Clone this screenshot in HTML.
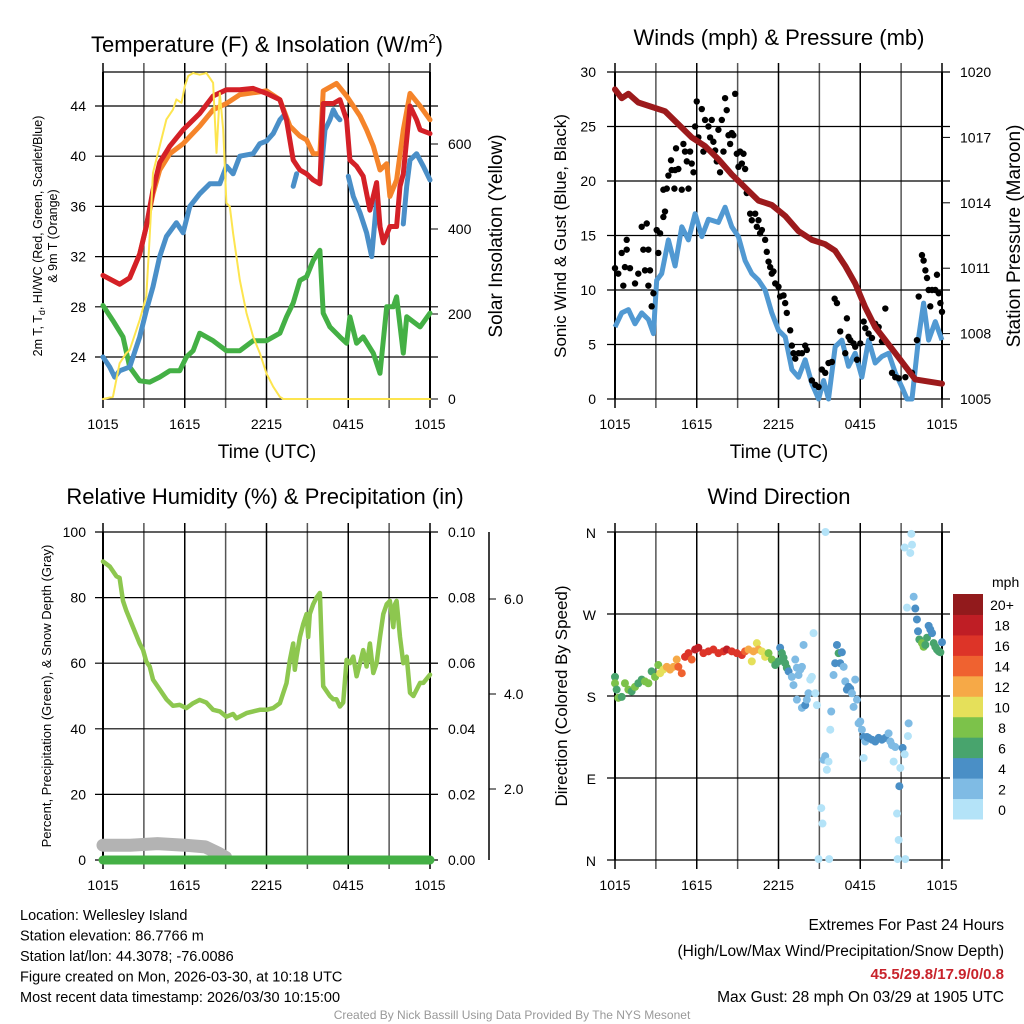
<!DOCTYPE html>
<html><head><meta charset="utf-8"><style>
html,body{margin:0;padding:0;background:#fff;}
svg{display:block;font-family:"Liberation Sans",Arial,sans-serif;}
</style></head><body>
<svg id="root" width="1024" height="1024" viewBox="0 0 1024 1024"></svg>
<script>
// ---------- DATA ----------
const tempRedH=[0,1.22,1.96,2.69,3.18,3.67,4.16,4.9,5.88,7.1,8.08,9.06,10.04,11.02,12.0,12.98,13.47,13.96,14.45,14.94,15.43,15.92,16.16,16.9,17.39,17.88,18.12,18.61,19.1,19.59,20.08,20.33,20.57,21.06,21.55,21.8,22.04,22.53,23.02,23.27,24];
const tempRedV=[30.5,29.8,30.3,32.2,34.4,37.3,39.5,40.8,42.1,43.4,44.8,45.3,45.3,45.4,45.0,44.5,42.9,39.7,38.9,38.6,38.1,37.8,44.2,44.2,44.5,42.9,39.7,39.2,38.4,35.7,37.9,34.4,33.1,34.4,34.4,37.6,38.6,44.0,42.9,42.1,41.8];
const temp9mH=[0,1.22,1.96,2.69,3.18,3.67,4.16,4.9,5.88,7.1,8.08,9.06,10.04,12.0,12.98,13.72,14.45,14.94,15.43,15.92,16.16,17.14,17.88,18.37,18.86,19.35,19.84,20.33,20.82,21.06,21.55,22.04,22.53,23.27,24];
const temp9mV=[30.5,29.8,30.3,32.2,34.4,37.0,38.9,40.2,41.0,42.4,43.7,44.2,44.9,45.2,44.5,42.4,41.6,41.3,40.2,40.2,45.2,45.8,44.8,44.0,43.2,42.1,40.8,38.9,39.4,36.8,38.1,42.1,45.0,44.0,42.9];
const wcH=[0,.49,.86,1.22,1.96,2.69,3.18,3.67,4.16,4.65,5.39,5.88,6.37,7.1,7.84,8.57,9.06,9.55,10.04,11.02,11.51,12.0,12.49,12.98,13.23,null,13.96,14.21,null,15.92,16.29,16.65,16.9,17.14,17.39,null,18.0,18.37,18.86,19.35,19.72,20.08,20.33,null,22.04,22.29,22.53,23.02,23.51,24];
const wcV=[24.0,23.2,22.4,22.9,23.2,25.6,27.7,29.6,32.0,33.6,34.7,33.9,36.0,37.0,37.8,37.8,39.2,38.6,40.0,40.2,41.0,41.2,41.8,42.9,43.2,null,37.6,38.6,null,37.8,42.1,42.9,43.7,43.2,42.9,null,38.4,36.8,35.5,33.9,32.0,36.4,34.4,null,34.6,37.6,39.7,40.2,39.2,38.1];
const dewH=[0,.73,1.47,1.96,2.69,3.43,4.16,4.9,5.63,6.12,6.61,7.1,8.08,9.06,10.04,11.02,12.0,12.98,13.47,13.96,14.45,14.94,15.43,15.92,16.16,16.65,17.39,17.88,18.12,18.61,19.1,19.84,20.33,20.82,21.31,21.55,22.04,22.29,23.27,24];
const dewV=[28.1,26.9,25.6,23.2,22.1,22.0,22.4,22.9,22.9,24.0,24.5,25.9,25.3,24.5,24.5,25.3,25.3,25.9,27.2,28.3,30.1,30.4,31.7,32.5,27.5,26.4,25.6,25.1,27.2,25.1,25.6,24.3,22.7,28.0,28.0,28.8,24.3,27.2,26.4,27.5];
const solarH=[0,.73,1.22,1.71,1.96,2.69,3.18,3.43,3.67,4.16,4.65,5.14,5.39,5.76,6.0,6.25,6.61,7.1,7.59,8.08,8.33,8.57,8.82,9.06,9.31,9.55,10.04,10.53,11.02,11.51,12.0,12.49,12.98,13.23,24];
const solarV=[0,5,84,108,115,186,241,383,532,595,658,681,705,697,736,760,767,763,767,744,579,720,634,461,453,390,280,202,147,108,60,29,5,0,0];
const tempTicks=[24,28,32,36,40,44];
const solarTicks=[0,200,400,600];
const timeLabels=["1015","1615","2215","0415","1015"];

const presH=[0,.49,.98,1.71,2.69,3.67,4.65,5.63,6.61,7.59,8.57,9.55,10.53,11.51,12.49,13.47,14.45,15.43,16.16,16.9,17.63,18.37,19.1,19.84,20.57,21.31,22.04,23.02,24];
const presV=[1019.2,1018.8,1019.0,1018.6,1018.4,1018.2,1017.6,1017.0,1016.6,1016.0,1015.3,1014.7,1014.1,1013.9,1013.4,1012.7,1012.3,1012.1,1011.8,1011.1,1010.3,1009.2,1008.3,1007.7,1007.1,1006.5,1005.9,1005.8,1005.7];
const windH=[0,.49,.98,1.47,1.96,2.45,2.82,3.06,3.43,3.92,4.41,4.9,5.39,5.88,6.37,6.86,7.59,8.08,8.57,9.06,9.55,10.04,10.53,11.02,11.51,12.0,12.49,12.98,13.47,13.96,14.45,14.94,15.31,15.67,16.16,16.65,17.14,17.63,18.12,18.61,19.1,19.59,20.08,20.57,21.06,21.43,21.8,22.29,22.65,23.02,23.51,24];
const windV=[6.6,7.9,8.2,6.9,7.9,7.3,6.0,10.9,11.5,14.6,12.2,15.8,14.6,17.0,14.9,16.5,16.2,17.6,15.8,14.9,12.7,11.5,10.9,10.0,7.9,6.3,5.7,2.7,2.0,3.6,1.4,0,1.7,0,4.8,5.4,3.0,4.2,2.0,5.4,3.3,3.9,4.2,2.4,1.1,0,0,5.7,8.8,5.4,7.1,5.4];
const gustH=[0,.24,.49,.86,.86,.73,.61,1.1,1.47,1.71,1.96,2.33,2.08,2.45,2.2,2.57,2.45,2.69,2.82,3.06,3.31,3.18,3.55,3.67,3.55,3.8,3.92,4.16,4.41,4.65,4.11,4.36,4.48,4.9,5.02,5.14,5.27,5.39,5.51,5.63,5.76,5.88,6.0,6.12,6.37,6.49,6.61,6.86,7.1,7.22,6.98,7.35,7.47,7.59,7.71,7.84,7.96,8.08,8.2,8.33,8.45,8.57,8.69,8.82,8.94,9.06,9.18,9.31,9.43,9.55,9.67,9.92,10.04,10.29,10.41,10.53,10.65,10.78,11.02,11.14,11.27,11.39,11.51,11.63,11.76,12.0,12.12,12.37,12.49,12.61,12.86,12.98,13.1,13.23,13.47,13.72,13.96,14.08,14.45,14.7,14.94,15.18,15.43,15.67,15.92,16.12,16.29,16.53,16.9,17.02,17.14,17.27,17.51,17.63,17.76,18.0,18.25,18.37,18.61,18.86,19.1,19.35,19.59,19.84,20.33,20.57,20.82,21.31,21.8,22.16,22.29,22.53,22.65,22.78,22.9,23.02,23.14,23.27,23.51,23.63,23.76,23.88,24];
const gustV=[12.0,11.5,13.4,14.6,13.7,12.1,10.4,12.0,10.6,11.5,15.8,16.1,13.7,13.7,11.8,11.8,10.4,8.5,9.7,15.5,15.2,13.4,16.7,17.2,19.2,19.3,20.5,21.0,21.0,21.1,21.9,19.3,23.0,19.2,23.4,22.7,21.8,19.3,22.7,21.6,20.8,25.0,27.3,24.0,26.6,22.7,25.6,25.0,25.6,23.6,24.0,22.8,21.8,24.7,20.8,25.6,22.7,27.6,26.5,24.2,23.4,24.4,24.2,28.0,22.5,21.3,22.7,21.6,22.5,21.1,18.9,17.0,16.4,17.0,15.8,16.4,15.2,15.5,14.6,13.5,12.6,12.1,11.5,11.7,10.6,10.3,9.4,9.5,8.8,7.9,6.3,4.9,4.2,3.7,4.2,4.2,4.9,4.5,1.7,1.3,1.1,2.7,2.4,3.3,3.4,9.2,8.8,6.2,4.2,7.4,5.7,5.4,5.1,4.8,3.6,5.1,7.1,6.5,6.0,5.6,6.9,6.6,5.3,8.3,2.4,2.0,1.9,2.0,2.4,5.4,9.4,13.2,12.7,11.8,11.1,10.0,8.5,10.0,10.0,11.4,9.7,8.8,8.0];
const windTicks=[0,5,10,15,20,25,30];
const presTicks=[1005,1008,1011,1014,1017,1020];

const rhH=[0,.49,.98,1.22,1.47,1.71,2.2,2.69,2.94,3.18,3.43,3.67,4.16,4.65,5.14,5.63,6.12,6.61,7.1,7.59,8.08,8.57,9.06,9.55,9.8,10.53,11.02,11.51,12.0,12.49,12.98,13.47,13.72,13.96,14.08,14.21,14.45,14.7,14.94,15.06,15.18,15.43,15.67,15.92,16.04,16.16,16.65,16.9,17.14,17.39,17.63,17.88,18.12,18.37,18.61,18.86,19.1,19.35,19.59,19.84,20.08,20.33,20.57,20.82,21.06,21.31,21.43,21.55,21.8,22.04,22.29,22.53,22.78,23.27,23.51,24];
const rhV=[91,89.5,86.5,86,79,76,71,66,64,60.5,59,55,52,49,47,47.3,46.3,47.8,48.8,48,45.8,45.3,43.7,44.5,43.2,44.8,45.3,45.8,45.8,46.3,47.8,53.9,61,66,58,62,68,72,75,68,75,78,80,81.4,67,53,50,49,49,46.8,48,61,60,62,56,60,64,59,66,57,60,68,75,78,79,71,78,79,68,60,62,51,50,54,54,56.5];
const snowH=[0,2,4,6,7.5,8.5,9];
const snowV=[4.5,4.5,5.0,4.5,4.0,2.0,0.8];
const precipH=[0,24];
const precipV=[0,0];
const rhTicks=[0,20,40,60,80,100];
const precipTicks=["0.00","0.02","0.04","0.06","0.08","0.10"];
const snowTicks=["2.0","4.0","6.0"];

const dirH=[0,0,.12,.24,.49,.73,.98,1.22,1.47,1.71,1.96,2.2,2.45,2.69,2.94,3.18,3.31,3.55,3.8,4.04,4.29,4.53,4.65,4.9,5.14,5.39,5.63,5.88,6.12,6.49,6.86,7.22,7.59,7.96,8.2,8.57,8.94,9.31,9.55,9.8,10.04,10.16,10.41,10.53,10.78,11.02,11.27,11.51,11.76,12.0,12.12,12.25,12.37,12.49,12.61,12.74,12.98,13.1,13.23,13.35,13.47,13.6,13.72,13.84,13.35,13.72,13.96,14.08,14.2,14.45,14.57,14.7,14.82,14.33,15.14,15.23,15.31,15.43,15.55,15.67,15.45,14.94,15.72,15.8,15.87,16.04,16.16,16.29,16.41,16.53,16.65,16.78,16.9,17.02,17.14,17.27,17.39,17.51,17.63,17.76,17.88,18.0,18.12,18.25,18.37,18.49,18.61,18.86,19.1,19.35,19.59,19.84,20.08,20.21,20.33,20.57,18.25,20.45,20.94,20.87,20.7,20.82,20.74,21.31,21.11,21.26,21.5,21.55,21.26,21.67,21.75,21.8,21.92,21.43,22.04,22.16,22.24,22.34,22.53,22.65,22.78,22.9,23.02,23.14,23.27,23.39,23.51,23.63,23.76,23.88,24];
const dirV=[201,194,187,178,179,194,187,185,190,194,198,196,194,207,201,214,205,209,212,209,212,220,212,205,223,227,220,231,233,227,229,231,227,229,231,229,227,225,229,231,218,229,238,231,229,223,227,220,214,218,233,227,222,216,211,207,201,192,220,211,203,209,212,236,176,167,170,176,183,201,249,183,170,198,57,40,110,114,99,108,360,1,1,143,163,203,216,236,227,216,228,212,196,187,190,188,183,168,198,176,150,152,143,135,130,135,134,132,130,134,132,134,139,130,126,124,112,108,101,81,51,22,1,1,123,116,136,150,343,337,358,346,289,277,276,264,251,242,238,234,236,244,257,253,249,238,234,231,229,228,239];
const dirS=[6,8,6,8,6,8,8,6,8,6,6,8,8,6,8,8,10,10,12,12,12,12,14,14,16,16,14,18,18,16,16,16,16,16,18,16,16,16,14,12,10,12,10,12,10,10,8,8,6,6,4,6,6,6,6,4,2,2,2,2,2,2,2,2,2,2,4,2,2,0,0,0,0,0,0,0,2,2,0,0,0,0,0,0,2,2,4,4,6,4,4,2,2,4,4,4,2,2,2,2,2,2,2,4,2,4,4,4,4,4,4,4,2,2,2,2,0,0,0,4,0,0,0,0,4,0,0,2,0,0,0,0,2,0,4,4,4,6,8,8,6,6,4,4,4,6,6,6,6,6,4];
const dirLabels=["N","E","S","W","N"];
const dirTicks=[0,90,180,270,360];
const speedLabels=["0","2","4","6","8","10","12","14","16","18","20+"];
const speedColors=["#b4e3f8","#7fbbe4","#4a8fc6","#48a46d","#7cc24a","#e5e05a","#f6a947","#ef6230","#dd3428","#bf1e25","#921a1c"];

// ---------- DRAW ----------
const NS="http://www.w3.org/2000/svg";
const root=document.getElementById('root');
function el(tag,attrs,parent,text){const e=document.createElementNS(NS,tag);for(const k in attrs)e.setAttribute(k,attrs[k]);if(text!==undefined)e.textContent=text;(parent||root).appendChild(e);return e;}
function lin(d0,d1,r0,r1){return v=>r0+(v-d0)*(r1-r0)/(d1-d0);}
function pathFrom(H,V,sx,sy){let d="",pen=false;for(let i=0;i<H.length;i++){if(H[i]===null||V[i]===null){pen=false;continue;}d+=(pen?"L":"M")+sx(H[i]).toFixed(1)+","+sy(V[i]).toFixed(1);pen=true;}return d;}
function frame(g,x0,x1,y0,y1,sx){
  for(let h=0;h<=24;h+=3){const x=sx(h);
    const l=el('line',{x1:x,x2:x,y1:y0-9,y2:y1+9,stroke:(h%6==0)?'#000':'#555','stroke-width':1.5},g);
    
    }
  timeLabels.forEach((t,i)=>{const tx=el('text',{x:sx(i*6),y:y1+30,'font-size':14,'text-anchor':'middle'},g,t);
    
    });
}
function hline(g,x0,x1,y,ext){const l=el('line',{x1:x0-ext,x2:x1+ext,y1:y,y2:y,stroke:'#000','stroke-width':1.2},g);
  
  }

// Panel 1
(function(){
  const x0=103,x1=430,y0=72,y1=399;
  const g=el('g',{});
  const sx=lin(0,24,x0,x1), sy=lin(24,44,357,106), ss=lin(0,600,399,144);
  frame(g,x0,x1,y0,y1,sx);
  tempTicks.forEach(t=>{hline(g,x0,x1,sy(t),8);const tx=el('text',{x:86,y:sy(t)+5,'font-size':14,'text-anchor':'end'},g,t);});
  hline(g,x0,x1,y0,0);hline(g,x0,x1,y1,0);
  solarTicks.forEach(t=>{el('line',{x1:x1,x2:x1+8,y1:ss(t),y2:ss(t),stroke:'#000'},g);const tx=el('text',{x:448,y:ss(t)+5,'font-size':14},g,t);});
  el('line',{x1:x0,x2:x0,y1:y0,y2:y1,stroke:'#000','stroke-width':2},g);
  el('line',{x1:x1,x2:x1,y1:y0,y2:y1,stroke:'#000','stroke-width':2},g);
  const series=[[dewH,dewV,'#44b045',5,'dewpoint-line',sy],[wcH,wcV,'#4a8fc8',5,'windchill-line',sy],[temp9mH,temp9mV,'#f5842a',5,'temp-9m-line',sy],[tempRedH,tempRedV,'#d42027',5,'temp-2m-line',sy],[solarH,solarV,'#fde54f',2,'solar-line',ss]];
  series.forEach(s=>{const p=el('path',{d:pathFrom(s[0],s[1],sx,s[5]),fill:'none',stroke:s[2],'stroke-width':s[3],'stroke-linejoin':'round','stroke-linecap':'round'},g);});
  const t=el('text',{x:267,y:52,'font-size':22,'text-anchor':'middle'},g);t.innerHTML='Temperature (F) &amp; Insolation (W/m<tspan dy="-9" font-size="13">2</tspan><tspan dy="9">)</tspan>';
  
  const xt=el('text',{x:267,y:458,'font-size':19,'text-anchor':'middle'},g,'Time (UTC)');
  const yt=el('text',{transform:'translate(42,236) rotate(-90)','font-size':12.5,'text-anchor':'middle'},g);
  yt.innerHTML='<tspan x="0" dy="0">2m T, T<tspan font-size="9" dy="3">d</tspan><tspan dy="-3">, HI/WC (Red, Green, Scarlet/Blue)</tspan></tspan><tspan x="0" dy="15">&amp; 9m T (Orange)</tspan>';
  
  const rt=el('text',{transform:'translate(502,236) rotate(-90)','font-size':19,'text-anchor':'middle'},g,'Solar Insolation (Yellow)');
})();

// Panel 2
(function(){
  const x0=615,x1=942,y0=72,y1=399;
  const g=el('g',{});
  const sx=lin(0,24,x0,x1), sy=lin(0,30,399,72), sp=lin(1005,1020,399,72);
  frame(g,x0,x1,y0,y1,sx);
  windTicks.forEach(t=>{hline(g,x0,x1,sy(t),8);const tx=el('text',{x:596,y:sy(t)+5,'font-size':14,'text-anchor':'end'},g,t);});
  presTicks.forEach(t=>{el('line',{x1:x1,x2:x1+8,y1:sp(t),y2:sp(t),stroke:'#000'},g);const tx=el('text',{x:960,y:sp(t)+5,'font-size':14},g,t);});
  el('line',{x1:x0,x2:x0,y1:y0,y2:y1,stroke:'#000','stroke-width':2},g);
  el('line',{x1:x1,x2:x1,y1:y0,y2:y1,stroke:'#000','stroke-width':2},g);
  const wp=el('path',{d:pathFrom(windH,windV,sx,sy),fill:'none',stroke:'#5199d2','stroke-width':5,'stroke-linejoin':'round'},g);
  
  gustH.forEach((h,i)=>{const c=el('circle',{cx:sx(h),cy:sy(gustV[i]),r:3.2,fill:'#000'},g);
    
    });
  const pp=el('path',{d:pathFrom(presH,presV,sx,sp),fill:'none',stroke:'#9c1a1c','stroke-width':6,'stroke-linejoin':'round','stroke-linecap':'round'},g);
  
  const t=el('text',{x:779,y:45,'font-size':22,'text-anchor':'middle'},g,'Winds (mph) & Pressure (mb)');
  const xt=el('text',{x:779,y:458,'font-size':19,'text-anchor':'middle'},g,'Time (UTC)');
  const yt=el('text',{transform:'translate(566,236) rotate(-90)','font-size':17,'text-anchor':'middle'},g,'Sonic Wind & Gust (Blue, Black)');
  const rt=el('text',{transform:'translate(1020,236) rotate(-90)','font-size':19,'text-anchor':'middle'},g,'Station Pressure (Maroon)');
})();

// Panel 3
(function(){
  const x0=103,x1=430,y0=532,y1=860;
  const g=el('g',{});
  const sx=lin(0,24,x0,x1), sy=lin(0,100,860,532), sn=lin(0,6,884,599);
  frame(g,x0,x1,y0,y1,sx);
  rhTicks.forEach((t,i)=>{hline(g,x0,x1,sy(t),8);const tx=el('text',{x:86,y:sy(t)+5,'font-size':14,'text-anchor':'end'},g,t);
    el('line',{x1:x1,x2:x1+8,y1:sy(t),y2:sy(t),stroke:'#000'},g);
    const r=el('text',{x:448,y:sy(t)+5,'font-size':14},g,precipTicks[i]);});
  el('line',{x1:489,x2:489,y1:532,y2:860,stroke:'#000','stroke-width':1.5},g);
  snowTicks.forEach(t=>{el('line',{x1:489,x2:496,y1:sn(+t),y2:sn(+t),stroke:'#000'},g);const r=el('text',{x:504,y:sn(+t)+5,'font-size':14},g,t);});
  el('line',{x1:x0,x2:x0,y1:y0,y2:y1,stroke:'#000','stroke-width':2},g);
  el('line',{x1:x1,x2:x1,y1:y0,y2:y1,stroke:'#000','stroke-width':2},g);
  const sp=el('path',{d:pathFrom(snowH,snowV,sx,sy),fill:'none',stroke:'#b3b3b3','stroke-width':13,'stroke-linecap':'round','stroke-linejoin':'round'},g);
  
  const pr=el('path',{d:pathFrom(precipH,precipV,sx,sy),fill:'none',stroke:'#44b045','stroke-width':9,'stroke-linecap':'round'},g);
  
  const rp=el('path',{d:pathFrom(rhH,rhV,sx,sy),fill:'none',stroke:'#8dc74f','stroke-width':4.5,'stroke-linejoin':'round','stroke-linecap':'round'},g);
  
  const t=el('text',{x:265,y:504,'font-size':22,'text-anchor':'middle'},g,'Relative Humidity (%) & Precipitation (in)');
  const yt=el('text',{transform:'translate(51,696) rotate(-90)','font-size':13,'text-anchor':'middle'},g,'Percent, Precipitation (Green), & Snow Depth (Gray)');
})();

// Panel 4
(function(){
  const x0=615,x1=942,y0=532,y1=860;
  const g=el('g',{});
  const sx=lin(0,24,x0,x1), sy=lin(0,360,860,532);
  frame(g,x0,x1,y0,y1,sx);
  dirTicks.forEach((d,i)=>{hline(g,x0,x1,sy(d),8);const tx=el('text',{x:596,y:sy(d)+6,'font-size':14,'text-anchor':'end'},g,dirLabels[i]);});
  el('line',{x1:x0,x2:x0,y1:y0,y2:y1,stroke:'#000','stroke-width':2},g);
  el('line',{x1:x1,x2:x1,y1:y0,y2:y1,stroke:'#000','stroke-width':2},g);
  dirH.forEach((h,i)=>{const idx=Math.min(10,Math.floor(dirS[i]/2));
    const c=el('circle',{cx:sx(h),cy:sy(dirV[i]),r:4,fill:speedColors[idx]},g);
    
    });
  const cb=el('g',{},g);
  const bh=(819-594)/11;
  speedColors.forEach((c,i)=>{el('rect',{x:953,y:819-(i+1)*bh,width:30,height:bh+0.5,fill:c},cb);
    const tx=el('text',{x:1002,y:819-(i+0.5)*bh+6,'font-size':14,'text-anchor':'middle'},cb,speedLabels[i]);});
  el('text',{x:992,y:587,'font-size':14},cb,'mph');
  const t=el('text',{x:779,y:504,'font-size':22,'text-anchor':'middle'},g,'Wind Direction');
  const yt=el('text',{transform:'translate(567,696) rotate(-90)','font-size':17,'text-anchor':'middle'},g,'Direction (Colored By Speed)');
})();

// Footer text
const leftLines=["Location: Wellesley Island","Station elevation: 86.7766 m","Station lat/lon: 44.3078; -76.0086","Figure created on Mon, 2026-03-30, at 10:18 UTC","Most recent data timestamp: 2026/03/30 10:15:00"];
leftLines.forEach((s,i)=>{const t=el('text',{x:20,y:920+i*20.5,'font-size':14.5},root,s);});
const rl=[["Extremes For Past 24 Hours",930,'#000','normal'],["(High/Low/Max Wind/Precipitation/Snow Depth)",956,'#000','normal'],["45.5/29.8/17.9/0/0.8",979,'#c8232b','bold'],["Max Gust: 28 mph On 03/29 at 1905 UTC",1002,'#000','normal']];
rl.forEach(r=>{const t=el('text',{x:1004,y:r[1],'font-size':r[3]=='bold'?15:15.5,'text-anchor':'end',fill:r[2],'font-weight':r[3]},root,r[0]);});
const cr=el('text',{x:512,y:1019,'font-size':12,'text-anchor':'middle',fill:'#999'},root,'Created By Nick Bassill Using Data Provided By The NYS Mesonet');

</script>
</body></html>
